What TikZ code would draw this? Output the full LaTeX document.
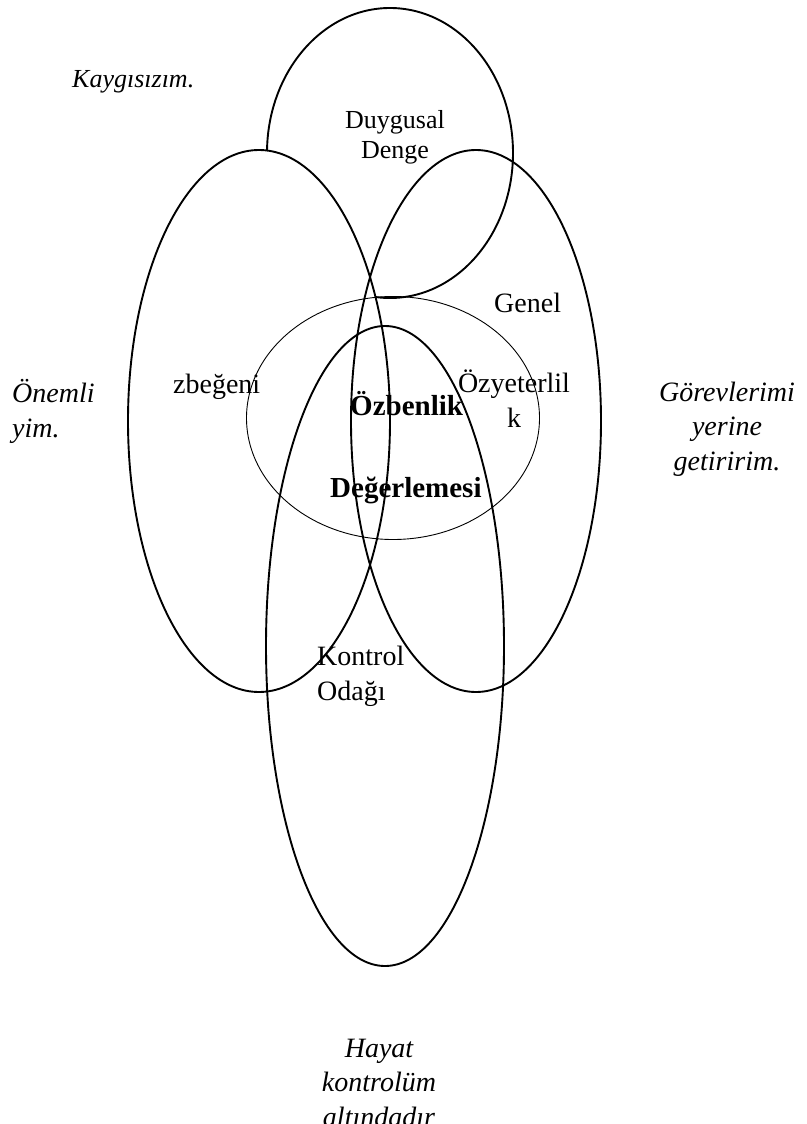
\documentclass[tikz,border=0pt]{standalone}
\usepackage{fontspec}
\setmainfont{Liberation Serif}
\usetikzlibrary{shapes.geometric}
\begin{document}
\begin{tikzpicture}[x=1pt,y=-1pt,
  ring/.style={ellipse, draw=black, line width=1.9pt, inner sep=0pt, outer sep=0pt},
  thinring/.style={ellipse, draw=black, line width=0.9pt, inner sep=0pt, outer sep=0pt},
  lbl/.style={font=\fontsize{28}{34.5}\selectfont, inner sep=0pt, anchor=base},
  small/.style={font=\fontsize{26}{29.5}\selectfont, inner sep=0pt, anchor=base},
  note/.style={font=\fontsize{28}{34.5}\selectfont\itshape, inner sep=0pt, anchor=base},
  key/.style={font=\fontsize{29}{34}\selectfont\bfseries, inner sep=0pt, anchor=base west}]
\useasboundingbox (0,0) rectangle (806,1124);
\clip (0,0) rectangle (806,1124);

% the five overlapping areas
\node[ring, minimum width=246pt, minimum height=290pt] (denge) at (390,153) {};
\node[ring, fill=white, minimum width=262pt, minimum height=542pt] (begeni) at (259,421) {};
\node[ring, minimum width=250pt, minimum height=542pt] (yeterlik) at (476,421) {};
\node[thinring, minimum width=293pt, minimum height=243pt] (ozbenlik) at (393,418) {};
\node[ring, minimum width=238pt, minimum height=640pt] (kontrol) at (385,646) {};

% labels of the areas (base = baseline of the last line)
\node[small, align=center] (tDenge) at (395,158) {Duygusal\\Denge};
\node[lbl, anchor=base west] (tGenel) at (494,312) {Genel};
\node[lbl, anchor=base west] (tBegeni) at (173,393) {zbeğeni};
\node[lbl, align=center] (tYeterlik) at (514,427) {Özyeterlil\\k};
\node[key] (tOz1) at (350,415) {Özbenlik};
\node[key] (tOz2) at (330,497) {Değerlemesi};
\node[lbl, anchor=base west, align=left] (tKontrol) at (317,700) {Kontrol\\Odağı};

% sample statements
\node[note, anchor=base west, font=\fontsize{26}{34}\selectfont\itshape] (sDenge) at (72,88) {Kaygısızım.};
\node[note, anchor=base west, align=left] (sBegeni) at (12,437) {Önemli\\yim.};
\node[note, align=center] (sYeterlik) at (727,470) {Görevlerimi\\yerine\\getiririm.};
\node[note, align=center] (sKontrol) at (379,1126) {Hayat\\kontrolüm\\altındadır};
\end{tikzpicture}
\end{document}
